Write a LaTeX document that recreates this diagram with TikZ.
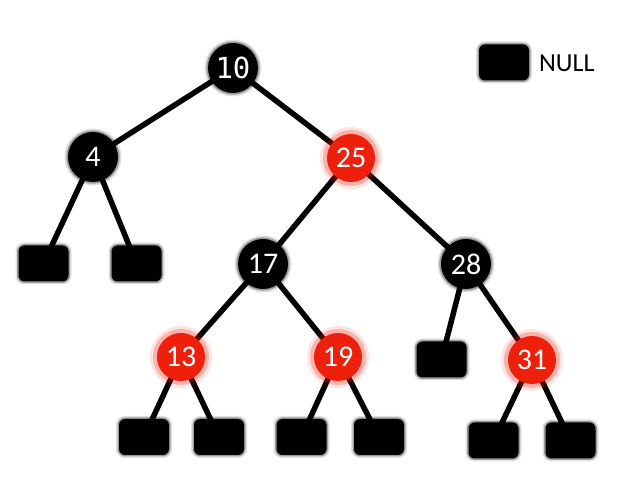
\documentclass[tikz,border=0pt]{standalone}
\usepackage{fontspec}
\setmainfont{Carlito}
\newfontfamily\keymono{DejaVu Sans Mono}
\usetikzlibrary{backgrounds}
\definecolor{rbred}{RGB}{238,32,12}
\tikzset{
  keyfont/.style={font=\fontsize{30}{32}\selectfont},
  blacknode/.style={circle, fill=black, text=white, minimum size=50pt, inner sep=0pt, keyfont,
    preaction={draw=black, draw opacity=0.12, line width=7pt},
    preaction={draw=black, draw opacity=0.3, line width=3.5pt}},
  rednode/.style={circle, fill=rbred, text=white, minimum size=48pt, inner sep=0pt, keyfont,
    preaction={draw=rbred, draw opacity=0.12, line width=14pt},
    preaction={draw=rbred, draw opacity=0.25, line width=8pt}},
  nullbox/.style={rectangle, rounded corners=6pt, fill=black, minimum width=50pt, minimum height=36pt, inner sep=0pt,
    preaction={draw=black, draw opacity=0.12, line width=6pt},
    preaction={draw=black, draw opacity=0.3, line width=3pt}},
  treeedge/.style={draw=black, line width=5.5pt}
}
\begin{document}
\begin{tikzpicture}[x=1pt, y=-1pt]
\useasboundingbox (0,0) rectangle (641,486);

% internal nodes
\node[blacknode] (n10) at (233,68) {\fontsize{29}{32}\selectfont\keymono 10};
\node[blacknode] (n4)  at (93,157) {4};
\node[rednode]   (n25) at (351,158) {25};
\node[blacknode] (n17) at (263,264) {17};
\node[blacknode] (n28) at (466,264) {28};
\node[rednode]   (n13) at (181,357) {13};
\node[rednode]   (n19) at (338,357) {19};
\node[rednode]   (n31) at (532,360) {31};

% NULL leaves
\node[nullbox] (l4)  at (43.5,263.5) {};
\node[nullbox] (r4)  at (136.5,263.5) {};
\node[nullbox] (l13) at (144,437) {};
\node[nullbox] (r13) at (219,437) {};
\node[nullbox] (l19) at (301.5,437) {};
\node[nullbox] (r19) at (379,437) {};
\node[nullbox] (l28) at (441.5,359.5) {};
\node[nullbox] (l31) at (493.5,440.5) {};
\node[nullbox] (r31) at (570.5,440.5) {};

% legend
\node[nullbox] (legbox) at (504,62.5) {};
\node[anchor=west, inner sep=0pt, font=\fontsize{26}{30}\selectfont] (legtext) at (539,63) {NULL};

% edges behind the nodes
\begin{pgfonlayer}{background}
\draw[treeedge] (n10.center) -- (n4.center);
\draw[treeedge] (n10.center) -- (n25.center);
\draw[treeedge] (n4.center) -- (l4.center);
\draw[treeedge] (n4.center) -- (r4.center);
\draw[treeedge] (n25.center) -- (n17.center);
\draw[treeedge] (n25.center) -- (n28.center);
\draw[treeedge] (n17.center) -- (n13.center);
\draw[treeedge] (n17.center) -- (n19.center);
\draw[treeedge] (n28.center) -- (l28.center);
\draw[treeedge] (n28.center) -- (n31.center);
\draw[treeedge] (n13.center) -- (l13.center);
\draw[treeedge] (n13.center) -- (r13.center);
\draw[treeedge] (n19.center) -- (l19.center);
\draw[treeedge] (n19.center) -- (r19.center);
\draw[treeedge] (n31.center) -- (l31.center);
\draw[treeedge] (n31.center) -- (r31.center);
\end{pgfonlayer}
\end{tikzpicture}
\end{document}
